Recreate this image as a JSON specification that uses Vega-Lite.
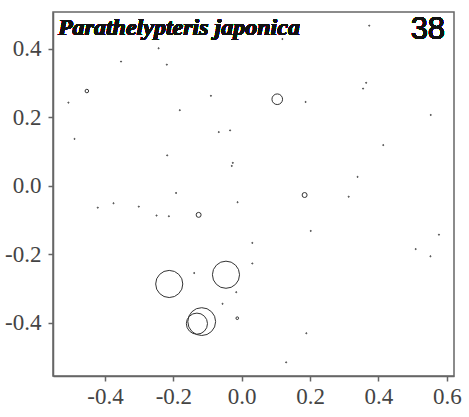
{
  "$schema": "https://vega.github.io/schema/vega-lite/v6.json",
  "width": 401,
  "height": 364,
  "autosize": {"type": "none"},
  "padding": {"left": 53, "top": 12, "right": 15, "bottom": 41},
  "config": {
    "view": {"stroke": "#666", "strokeWidth": 1.5},
    "axis": {
      "grid": false,
      "title": null,
      "domainColor": "#666",
      "domainWidth": 1.5,
      "tickColor": "#666",
      "tickWidth": 1.5,
      "tickSize": 5,
      "labelFont": "Liberation Serif",
      "labelFontSize": 23,
      "labelColor": "#444"
    }
  },
  "data": {
    "values": [
      {"x": -0.353, "y": 0.363, "abundance": 0.15},
      {"x": -0.453, "y": 0.277, "abundance": 1.6},
      {"x": -0.507, "y": 0.243, "abundance": 0.15},
      {"x": -0.489, "y": 0.137, "abundance": 0.15},
      {"x": -0.243, "y": 0.402, "abundance": 0.15},
      {"x": -0.219, "y": 0.354, "abundance": 0.15},
      {"x": -0.090, "y": 0.263, "abundance": 0.15},
      {"x": -0.181, "y": 0.221, "abundance": 0.15},
      {"x": -0.067, "y": 0.157, "abundance": 0.15},
      {"x": -0.034, "y": 0.162, "abundance": 0.15},
      {"x": -0.218, "y": 0.089, "abundance": 0.15},
      {"x": -0.026, "y": 0.067, "abundance": 0.15},
      {"x": -0.029, "y": 0.058, "abundance": 0.15},
      {"x": -0.192, "y": -0.021, "abundance": 0.15},
      {"x": 0.119, "y": 0.429, "abundance": 0.15},
      {"x": 0.104, "y": 0.253, "abundance": 14.6},
      {"x": 0.187, "y": 0.245, "abundance": 0.15},
      {"x": 0.184, "y": -0.027, "abundance": 3.2},
      {"x": 0.313, "y": -0.032, "abundance": 0.15},
      {"x": 0.373, "y": 0.468, "abundance": 0.15},
      {"x": 0.364, "y": 0.301, "abundance": 0.15},
      {"x": 0.355, "y": 0.284, "abundance": 0.15},
      {"x": 0.553, "y": 0.207, "abundance": 0.15},
      {"x": 0.414, "y": 0.119, "abundance": 0.15},
      {"x": 0.339, "y": 0.026, "abundance": 0.15},
      {"x": -0.421, "y": -0.064, "abundance": 0.15},
      {"x": -0.375, "y": -0.051, "abundance": 0.15},
      {"x": -0.301, "y": -0.061, "abundance": 0.15},
      {"x": -0.012, "y": -0.048, "abundance": 0.15},
      {"x": -0.249, "y": -0.087, "abundance": 0.15},
      {"x": -0.213, "y": -0.089, "abundance": 0.15},
      {"x": -0.126, "y": -0.085, "abundance": 3.2},
      {"x": 0.031, "y": -0.167, "abundance": 0.15},
      {"x": 0.031, "y": -0.227, "abundance": 0.15},
      {"x": -0.139, "y": -0.255, "abundance": 0.15},
      {"x": -0.212, "y": -0.287, "abundance": 95},
      {"x": -0.046, "y": -0.260, "abundance": 95},
      {"x": -0.016, "y": -0.311, "abundance": 0.15},
      {"x": -0.056, "y": -0.345, "abundance": 0.15},
      {"x": -0.117, "y": -0.397, "abundance": 100},
      {"x": -0.131, "y": -0.403, "abundance": 57.5},
      {"x": -0.013, "y": -0.387, "abundance": 0.9},
      {"x": 0.202, "y": -0.132, "abundance": 0.15},
      {"x": 0.189, "y": -0.431, "abundance": 0.15},
      {"x": 0.130, "y": -0.516, "abundance": 0.15},
      {"x": 0.577, "y": -0.143, "abundance": 0.15},
      {"x": 0.509, "y": -0.185, "abundance": 0.15},
      {"x": 0.552, "y": -0.206, "abundance": 0.15}
    ]
  },
  "layer": [
    {
      "mark": {"type": "point", "shape": "circle", "filled": false, "stroke": "#333", "strokeWidth": 1, "opacity": 1},
      "encoding": {
        "x": {
          "field": "x", "type": "quantitative",
          "scale": {"domain": [-0.552, 0.621], "nice": false, "zero": false},
          "axis": {
            "values": [-0.4, -0.2, 0, 0.2, 0.4, 0.6],
            "labelExpr": "datum.value < 0 ? '-' + format(-datum.value, '.1f') : format(datum.value, '.1f')",
            "labelPadding": 4,
            "labelDx": 5
          }
        },
        "y": {
          "field": "y", "type": "quantitative",
          "scale": {"domain": [-0.556, 0.508], "nice": false, "zero": false},
          "axis": {
            "values": [-0.4, -0.2, 0, 0.2, 0.4],
            "labelExpr": "datum.value < 0 ? '-' + format(-datum.value, '.1f') : format(datum.value, '.1f')",
            "labelPadding": 7,
            "labelDy": 2
          }
        },
        "size": {
          "field": "abundance", "type": "quantitative",
          "scale": {"type": "linear", "domain": [0, 100], "range": [0, 774]},
          "legend": null
        }
      }
    },
    {
      "mark": {"type": "text", "text": "Parathelypteris japonica", "font": "Liberation Serif", "fontStyle": "italic", "fontWeight": "bold", "fontSize": 24, "fill": "#111", "align": "left", "baseline": "alphabetic"},
      "encoding": {
        "x": {"datum": -0.5376},
        "y": {"datum": 0.4406}
      }
    },
    {
      "mark": {"type": "text", "text": "38", "font": "Liberation Sans", "fontSize": 31, "fill": "#111", "align": "right", "baseline": "alphabetic"},
      "encoding": {
        "x": {"datum": 0.595},
        "y": {"datum": 0.429}
      }
    }
  ]
}
